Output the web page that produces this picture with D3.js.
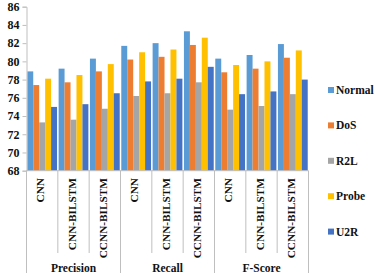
<!DOCTYPE html>
<html>
<head>
<meta charset="utf-8">
<script src="https://cdn.jsdelivr.net/npm/d3@7"></script>
<style>
  body { margin: 0; background: #fff; }
  svg text { font-family: "Liberation Serif", "Times New Roman", serif; font-weight: bold; fill: #111; }
</style>
</head>
<body>
<svg width="377" height="276"></svg>
<script>
// data
var metrics = ["Precision", "Recall", "F-Score"];
var models = ["CNN", "CNN-BILSTM", "CCNN-BILSTM"];
var series = ["Normal", "DoS", "R2L", "Probe", "U2R"];
var colors = ["#5B9BD5", "#ED7D31", "#A5A5A5", "#FFC000", "#4472C4"];
var yTicks = [68, 70, 72, 74, 76, 78, 80, 82, 84, 86];

// one entry per metric/model, in that order
var normal = [78.9, 79.2, 80.3, 81.7, 82.0, 83.3, 80.3, 80.7, 81.9];
var dos    = [77.4, 77.7, 78.9, 80.2, 80.5, 81.8, 78.8, 79.2, 80.4];
var r2l    = [73.3, 73.6, 74.8, 76.2, 76.5, 77.7, 74.7, 75.1, 76.4];
var probe  = [78.1, 78.5, 79.7, 81.0, 81.3, 82.6, 79.6, 80.0, 81.2];
var u2r    = [75.0, 75.3, 76.5, 77.8, 78.1, 79.4, 76.4, 76.7, 78.0];

var cols = [normal, dos, r2l, probe, u2r];
var cats = [];
metrics.forEach(function (m) {
    models.forEach(function (md) { cats.push({ metric: m, model: md, key: m + "|" + md }); });
});
cats.forEach(function (c, i) {
    c.values = series.map(function (s, j) { return { name: s, value: cols[j][i] }; });
});

var svg = d3.select("svg");
var plotL = 26.5, plotR = 308.5, plotT = 6.7, plotB = 170.7;

var x0 = d3.scaleBand().domain(cats.map(function (d) { return d.key; }))
    .range([plotL, plotR]).paddingInner(0).paddingOuter(0);
var x1 = d3.scaleBand().domain(series).range([0, x0.bandwidth()]).paddingOuter(0.13);
var y = d3.scaleLinear().domain([68, 86]).range([plotB, plotT]);
var color = d3.scaleOrdinal().domain(series).range(colors);

// bars
var g = svg.append("g");
var grp = g.selectAll(".grp").data(cats).enter().append("g")
    .attr("transform", function (d) { return "translate(" + x0(d.key) + ",0)"; });
grp.selectAll("rect").data(function (d) { return d.values; }).enter().append("rect")
    .attr("x", function (d) { return x1(d.name); })
    .attr("width", x1.bandwidth())
    .attr("y", function (d) { return y(d.value); })
    .attr("height", function (d) { return plotB - y(d.value); })
    .attr("fill", function (d) { return color(d.name); });

// y axis
var yAxis = svg.append("g")
    .attr("transform", "translate(" + plotL + ",0)")
    .call(d3.axisLeft(y).tickValues(yTicks).tickSize(4).tickPadding(3));
yAxis.select(".domain").attr("stroke", "#bfbfbf");
yAxis.selectAll(".tick line").attr("stroke", "#bfbfbf");
yAxis.selectAll("text").style("font-size", "12px").attr("fill", "#111")
    .style("font-family", "'Liberation Serif', serif").style("font-weight", "bold");

// x axis line
svg.append("line").attr("x1", plotL).attr("x2", plotR)
    .attr("y1", plotB).attr("y2", plotB).attr("stroke", "#bfbfbf");

// separators
var bounds = cats.map(function (d) { return x0(d.key); }).concat([plotR]);
svg.selectAll(".sep").data(bounds).enter().append("line")
    .attr("x1", function (d) { return d; }).attr("x2", function (d) { return d; })
    .attr("y1", plotB)
    .attr("y2", function (d, i) { return i % 3 === 0 ? 273 : 253; })
    .attr("stroke", "#bfbfbf");

// model labels (rotated)
svg.selectAll(".mlab").data(cats).enter().append("text")
    .attr("transform", function (d) {
        return "translate(" + (x0(d.key) + x0.bandwidth() / 2 + 2) + "," + 178 + ") rotate(-90)";
    })
    .attr("text-anchor", "end")
    .style("font-size", "11.3px")
    .text(function (d) { return d.model; });

// metric labels
svg.selectAll(".glab").data(metrics).enter().append("text")
    .attr("x", function (m, i) { return (bounds[i * 3] + bounds[i * 3 + 3]) / 2; })
    .attr("y", 272)
    .attr("text-anchor", "middle")
    .style("font-size", "11.5px")
    .text(function (d) { return d; });

// legend
var leg = svg.selectAll(".leg").data(series).enter().append("g")
    .attr("transform", function (d, i) { return "translate(328," + (90 + i * 35.4) + ")"; });
leg.append("rect").attr("x", 0).attr("y", -3).attr("width", 6).attr("height", 6)
    .attr("fill", function (d) { return color(d); });
leg.append("text").attr("x", 8).attr("y", 4)
    .style("font-size", "11.5px")
    .text(function (d) { return d; });
</script>
</body>
</html>
